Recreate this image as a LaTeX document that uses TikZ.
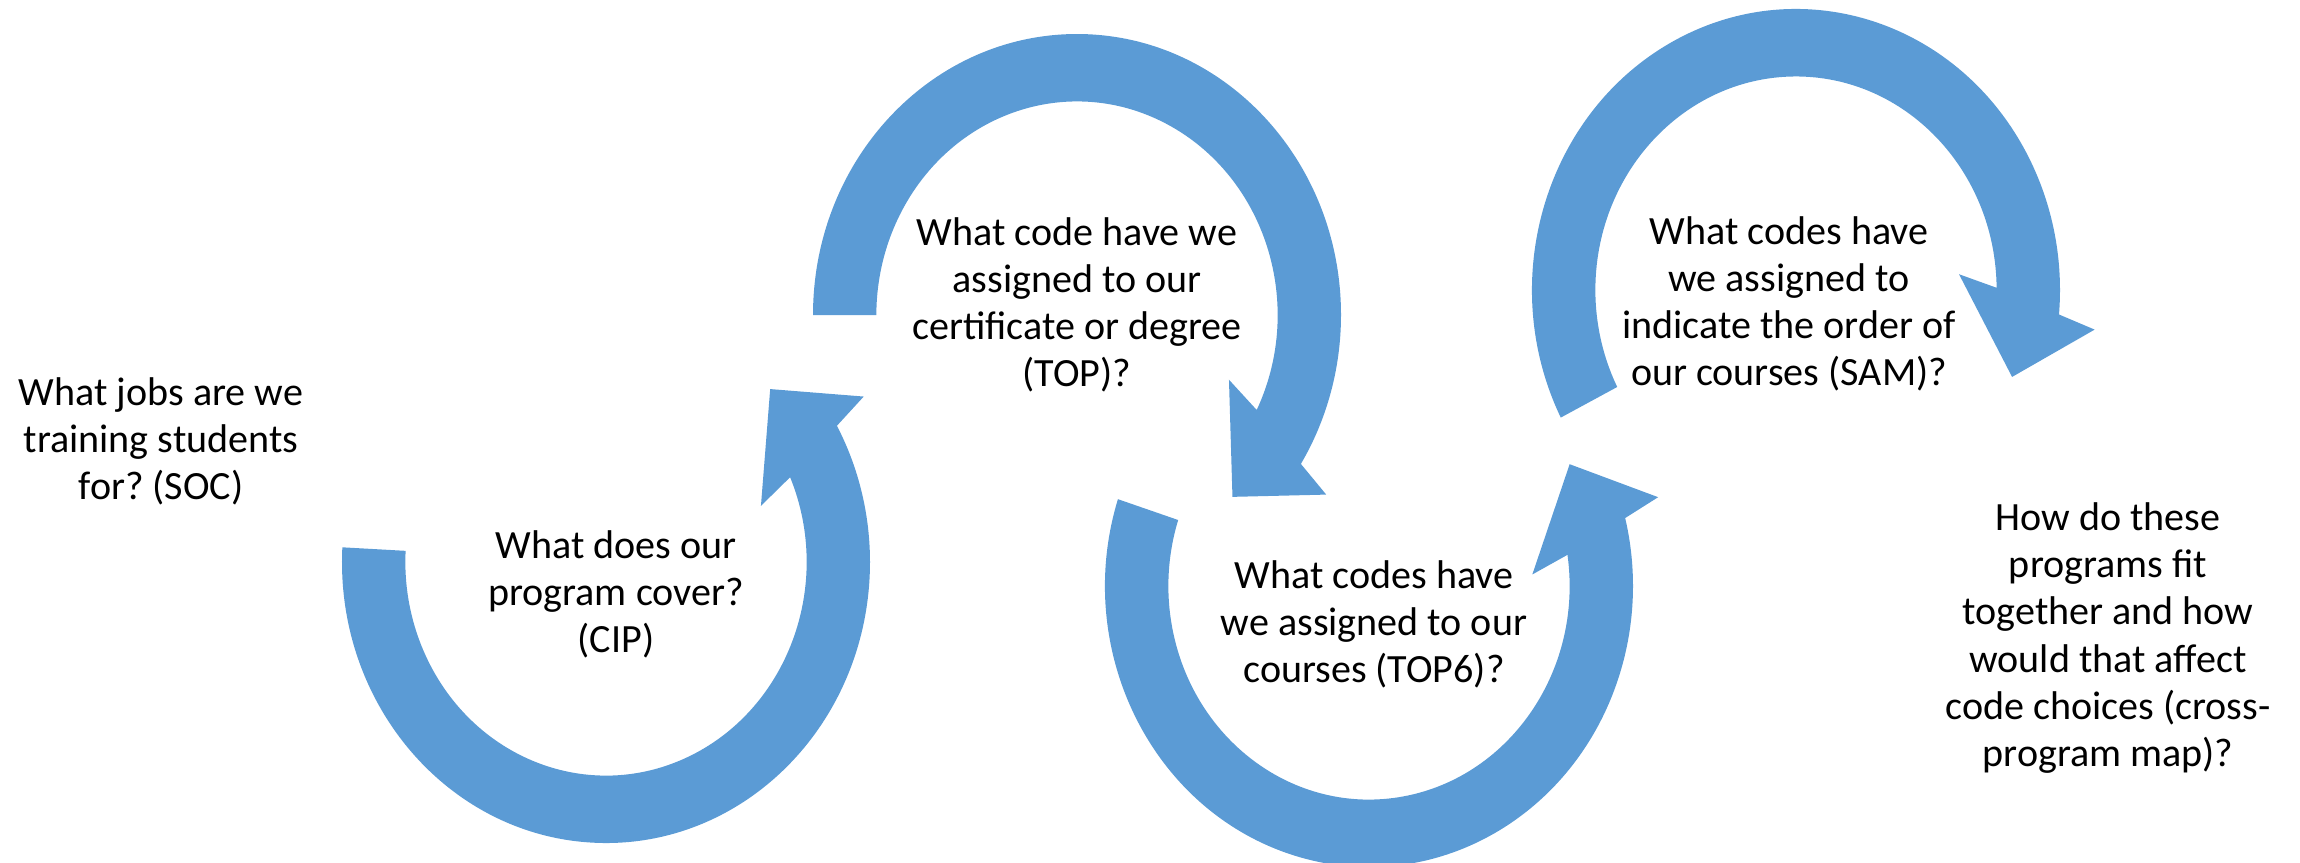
\documentclass[tikz,border=0pt]{standalone}
\usepackage{tikz}
\usepackage{fontspec}
\setmainfont{Carlito}
\usepackage{xcolor}
\definecolor{officeblue}{HTML}{5B9BD5}
\frenchspacing

\begin{document}
\begin{tikzpicture}
	\useasboundingbox (0,0) rectangle (23,-8.62);
\par
\tikzstyle{cyclearrow}=[fill=officeblue]
\tikzstyle{question}=[align=center,font=\fontsize{11.4}{13.4}\selectfont]
\par
	\foreach \cx/\cy/\st/\en/\dir in {6.06/-5.62/177/389/1, 10.77/-3.15/180/-32/-1, 13.69/-5.86/162/374/1, 17.96/-2.90/207/-5/-1}
	\fill[cyclearrow,shift={(\cx,\cy)},xscale=2.64,yscale=2.81] (\st:1) arc[start angle=\st,end angle=\en,radius=1] -- ({\en+(\dir)*2.1}:1.14) -- ({\en+(\dir)*15.7}:0.875) -- ({\en-(\dir)*10.2}:0.62) -- ({\en-(\dir)*5.6}:0.76) arc[start angle={\en-(\dir)*5.6},end angle=\st,radius=0.76] -- cycle;
\par
	\node[question] (soc) at (1.61,-4.41) {What jobs are we\\training students\\for? (SOC)};
	\node[question] (cip) at (6.16,-5.94) {What does our\\program cover?\\(CIP)};
	\node[question] (top) at (10.77,-3.05) {What code have we\\assigned to our\\certificate or degree\\(TOP)?};
	\node[question] (topsix) at (13.74,-6.24) {What codes have\\we assigned to our\\courses (TOP6)?};
	\node[question] (sam) at (17.89,-3.04) {What codes have\\we assigned to\\indicate the order of\\our courses (SAM)?};
	\node[question] (crossmap) at (21.08,-6.38) {How do these\\programs fit\\together and how\\would that affect\\code choices (cross-\\program map)?};
\end{tikzpicture}
\end{document}
